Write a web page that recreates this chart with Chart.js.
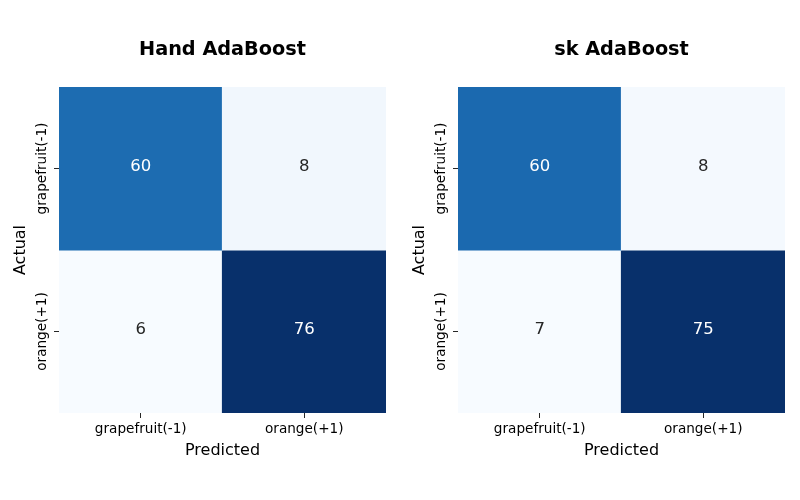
<!DOCTYPE html>
<html>
<head>
  <title>AdaBoost confusion matrices</title>
  <script src="https://cdn.jsdelivr.net/npm/chart.js"></script>
  <style>
    body {
      margin: 0;
      padding: 0;
      background: #ffffff;
      overflow: hidden;
    }

    #wrap {
      position: relative;
      width: 800px;
      height: 500px;
    }

    .panel {
      position: absolute;
      top: 0;
      width: 400px;
      height: 500px;
    }
  </style>
</head>
<body>

  <div id="wrap">
    <div class="panel" style="left: 0px;"><canvas id="handChart" width="400" height="500"></canvas></div>
    <div class="panel" style="left: 399px;"><canvas id="skChart" width="400" height="500"></canvas></div>
  </div>

  <script>
    // data
    const classes = ['grapefruit(-1)', 'orange(+1)'];
    const handRows = [[60, 8], [6, 76]];
    const skRows = [[60, 8], [7, 75]];
    const chartTitles = ['Hand AdaBoost', 'sk AdaBoost'];

    // matplotlib "Blues"
    const blues = ['#f7fbff', '#deebf7', '#c6dbef', '#9ecae1', '#6baed6', '#4292c6', '#2171b5', '#08519c', '#08306b'];

    function hexToRgb(h) {
      return [parseInt(h.slice(1, 3), 16), parseInt(h.slice(3, 5), 16), parseInt(h.slice(5, 7), 16)];
    }

    function bluesAt(t) {
      t = Math.max(0, Math.min(1, t));
      const pos = t * (blues.length - 1);
      const i = Math.min(Math.floor(pos), blues.length - 2);
      const f = pos - i;
      const a = hexToRgb(blues[i]);
      const b = hexToRgb(blues[i + 1]);
      return a.map((v, k) => Math.round(v + (b[k] - v) * f));
    }

    function luminance(rgb) {
      const c = rgb.map(v => {
        v = v / 255;
        return v <= 0.03928 ? v / 12.92 : Math.pow((v + 0.055) / 1.055, 2.4);
      });
      return 0.2126 * c[0] + 0.7152 * c[1] + 0.0722 * c[2];
    }

    Chart.defaults.font.family = "'DejaVu Sans', sans-serif";
    Chart.defaults.color = '#000000';

    // numbers inside the cells
    const cellLabels = {
      id: 'cellLabels',
      afterDatasetsDraw(chart) {
        const ctx = chart.ctx;
        ctx.save();
        ctx.font = "16.5px 'DejaVu Sans'";
        ctx.textAlign = 'center';
        ctx.textBaseline = 'middle';
        chart.data.datasets.forEach((ds, di) => {
          chart.getDatasetMeta(di).data.forEach((bar, j) => {
            ctx.fillStyle = ds.textColors[j];
            ctx.fillText(String(ds.cellValues[j]), bar.x, (bar.y + bar.base) / 2 - 2);
          });
        });
        ctx.restore();
      }
    };

    // title centred over the plot area
    const areaTitle = {
      id: 'areaTitle',
      afterDraw(chart, args, opts) {
        const ctx = chart.ctx;
        const area = chart.chartArea;
        ctx.save();
        ctx.font = "bold 19.3px 'DejaVu Sans'";
        ctx.fillStyle = '#000000';
        ctx.textAlign = 'center';
        ctx.textBaseline = 'middle';
        ctx.fillText(opts.text, (area.left + area.right) / 2, 50);
        ctx.restore();
      }
    };

    function buatMatrix(canvasId, rows, title) {
      const flat = rows.flat();
      const vmin = Math.min(...flat);
      const vmax = Math.max(...flat);

      const datasets = rows.map((row, r) => {
        const colors = row.map(v => bluesAt((v - vmin) / (vmax - vmin)));
        return {
          label: classes[r],
          data: row.map(() => [r, r + 1]),
          cellValues: row,
          backgroundColor: colors.map(c => `rgb(${c[0]},${c[1]},${c[2]})`),
          textColors: colors.map(c => luminance(c) > 0.408 ? '#262626' : '#ffffff'),
          borderWidth: 0,
          borderSkipped: false,
          inflateAmount: 0.6,
          barPercentage: 1,
          categoryPercentage: 1,
          grouped: false
        };
      });

      return new Chart(document.getElementById(canvasId), {
        type: 'bar',
        data: { labels: classes, datasets: datasets },
        plugins: [cellLabels, areaTitle],
        options: {
          responsive: false,
          animation: false,
          devicePixelRatio: 1,
          layout: { padding: { top: 87, right: 14, bottom: 0, left: 0 } },
          plugins: {
            legend: { display: false },
            tooltip: { enabled: false },
            areaTitle: { text: title }
          },
          scales: {
            x: {
              grid: { offset: false, drawOnChartArea: false, tickLength: 5, tickColor: '#262626', tickWidth: 1 },
              border: { display: false },
              ticks: { font: { size: 13.6 }, padding: 3, color: '#000000' },
              title: { display: true, text: 'Predicted', font: { size: 16 }, padding: { top: 0, bottom: 40 } },
              afterFit(scale) { scale.height = 87; }
            },
            y: {
              type: 'linear',
              min: 0,
              max: 2,
              reverse: true,
              afterBuildTicks(scale) {
                scale.ticks = classes.map((c, i) => ({ value: i + 0.5 }));
              },
              grid: { drawOnChartArea: false, tickLength: 5, tickColor: '#262626', tickWidth: 1 },
              border: { display: false },
              ticks: {
                font: { size: 13.6 },
                color: '#000000',
                minRotation: 90,
                maxRotation: 90,
                crossAlign: 'center',
                padding: -34.5,
                callback: (value, index) => classes[index]
              },
              title: { display: true, text: 'Actual', font: { size: 16 }, padding: { top: 11.4, bottom: 0 } },
              afterFit(scale) { scale.width = 59; }
            }
          }
        }
      });
    }

    buatMatrix('handChart', handRows, chartTitles[0]);
    buatMatrix('skChart', skRows, chartTitles[1]);
  </script>

</body>
</html>
